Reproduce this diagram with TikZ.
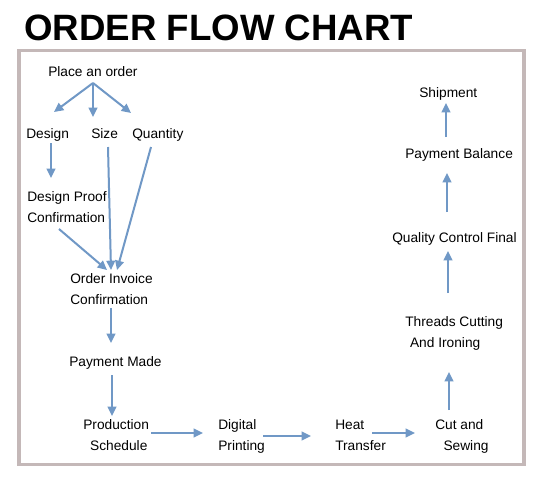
\documentclass[tikz,border=0pt]{standalone}
\usepackage{fontspec}
\setmainfont{Liberation Sans}
\usetikzlibrary{arrows.meta}
\definecolor{arrblue}{RGB}{112,152,198}
\definecolor{framegray}{RGB}{196,184,184}
\begin{document}
\begin{tikzpicture}[x=0.75pt,y=-0.75pt,
  lbl/.style={inner sep=0pt,anchor=base west,align=left,font=\fontsize{10.3}{15.75}\selectfont},
  arr/.style={draw=arrblue,line width=1.5pt,-{Triangle[length=7pt,width=6.5pt]}},
  titletext/.style={inner sep=0pt,anchor=base west,font=\fontsize{27.5}{30}\selectfont\bfseries}]
\useasboundingbox[fill=white] (0,0) rectangle (546,480);
\node[titletext] (title) at (24,40) {ORDER FLOW CHART};
\draw[framegray,line width=2.3pt] (19,50.5) rectangle (524,464.5);
% nodes (base = baseline of last line)
\node[lbl] (place) at (48,76) {Place an order};
\node[lbl] (design) at (26,138) {Design};
\node[lbl] (size) at (91,138) {Size};
\node[lbl] (qty) at (132,138) {Quantity};
\node[lbl] (proof) at (27,222) {Design Proof\\Confirmation};
\node[lbl] (invoice) at (70,304) {Order Invoice\\Confirmation};
\node[lbl] (paid) at (69,366) {Payment Made};
\node[lbl] (prod) at (83,450) {Production\\\hspace*{0.5em}Schedule};
\node[lbl] (digital) at (218,450) {Digital\\Printing};
\node[lbl] (heat) at (335,450) {Heat\\Transfer};
\node[lbl] (cut) at (435,450) {Cut and\\\hspace*{0.6em}Sewing};
\node[lbl] (threads) at (405,347) {Threads Cutting\\\hspace*{0.35em}And Ironing};
\node[lbl] (qc) at (392,242) {Quality Control Final};
\node[lbl] (bal) at (405,158) {Payment Balance};
\node[lbl] (ship) at (419,97) {Shipment};
% connectors
\coordinate (po) at ([shift={(45,7)}]place.base west);
\draw[arr] (po) -- ([shift={(28,-26)}]design.base west);
\draw[arr] (po) -- ([shift={(2,-21)}]size.base west);
\draw[arr] (po) -- ([shift={(-1,-25)}]qty.base west);
\draw[arr] ([shift={(25,5)}]design.base west) -- ([shift={(24,-44)}]proof.base west);
\draw[arr] ([shift={(32,7)}]proof.base west) -- ([shift={(37,-34)}]invoice.base west);
\draw[arr] ([shift={(17,9)}]size.base west) -- ([shift={(41,-34)}]invoice.base west);
\draw[arr] ([shift={(19,9)}]qty.base west) -- ([shift={(47,-34)}]invoice.base west);
\draw[arr] ([shift={(41,4)}]invoice.base west) -- ([shift={(42,-23)}]paid.base west);
\draw[arr] ([shift={(43,9)}]paid.base west) -- ([shift={(29,-34)}]prod.base west);
\draw[arr] ([shift={(68,-17)}]prod.base west) -- ([shift={(-15,-17)}]digital.base west);
\draw[arr] ([shift={(45,-14)}]digital.base west) -- ([shift={(-24,-14)}]heat.base west);
\draw[arr] ([shift={(37,-17)}]heat.base west) -- ([shift={(-20,-17)}]cut.base west);
\draw[arr] ([shift={(14,-40)}]cut.base west) -- ([shift={(44,25)}]threads.base west);
\draw[arr] ([shift={(43,-54)}]threads.base west) -- ([shift={(56,9)}]qc.base west);
\draw[arr] ([shift={(55,-30)}]qc.base west) -- ([shift={(42,15)}]bal.base west);
\draw[arr] ([shift={(41,-21)}]bal.base west) -- ([shift={(27,6)}]ship.base west);
\end{tikzpicture}
\end{document}
